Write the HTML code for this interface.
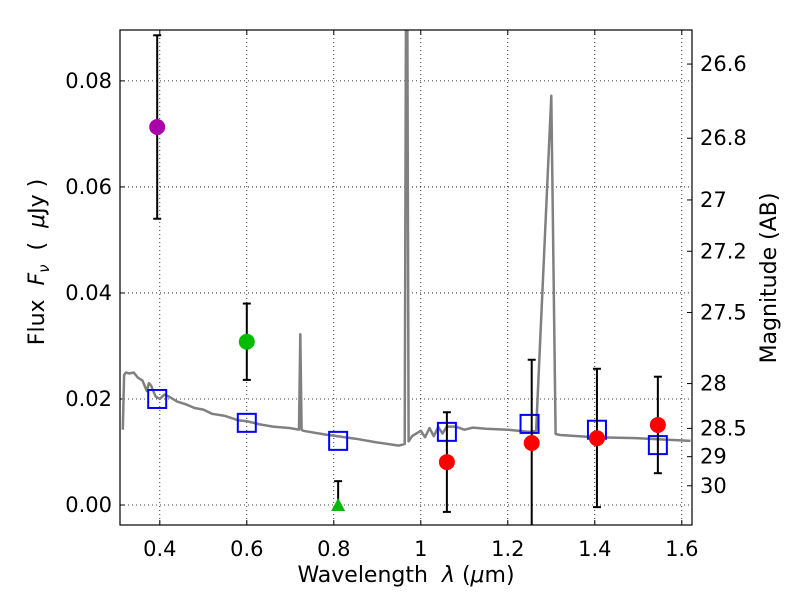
<!DOCTYPE html>
<html><head><meta charset="utf-8"><style>
body{margin:0;background:#fff;width:800px;height:600px;overflow:hidden}
text{font-family:"DejaVu Sans","Liberation Sans",sans-serif;fill:#000;white-space:pre}
</style></head><body>
<svg id="chart" width="800" height="600"></svg>
<script>
const xTicks=[0.4,0.6,0.8,1.0,1.2,1.4,1.6];
const xTickLabels=["0.4","0.6","0.8","1","1.2","1.4","1.6"];
const yTicks=[0,0.02,0.04,0.06,0.08];
const yTickLabels=["0.00","0.02","0.04","0.06","0.08"];
const magTicks=[26.6,26.8,27,27.2,27.5,28,28.5,29,30];
const magTickLabels=["26.6","26.8","27","27.2","27.5","28","28.5","29","30"];
const specX=[0.315,0.318,0.322,0.33,0.34,0.35,0.36,0.37,0.375,0.38,0.39,0.40,0.41,0.42,0.44,0.46,0.48,0.50,0.52,0.55,0.58,0.60,0.63,0.66,0.70,0.72,0.723,0.726,0.73,0.78,0.85,0.90,0.95,0.963,0.966,0.969,0.972,0.98,1.0,1.01,1.02,1.03,1.04,1.05,1.06,1.08,1.10,1.12,1.15,1.20,1.25,1.265,1.30,1.31,1.32,1.40,1.50,1.62];
const specY=[0.0142,0.0245,0.0250,0.0248,0.0250,0.0240,0.0235,0.0215,0.0230,0.0225,0.0205,0.0200,0.0208,0.0205,0.0195,0.0190,0.0183,0.0180,0.0172,0.0168,0.0160,0.0158,0.0152,0.0148,0.0145,0.0142,0.0322,0.0142,0.0140,0.0133,0.0125,0.0118,0.0112,0.0115,0.095,0.095,0.0120,0.0130,0.0140,0.0128,0.0145,0.0130,0.0147,0.0135,0.0148,0.0148,0.0142,0.0146,0.0144,0.0142,0.0138,0.0140,0.0772,0.0134,0.0132,0.0128,0.0126,0.0121];
const modelX=[0.394,0.6,0.81,1.06,1.25,1.405,1.545];
const modelY=[0.0200,0.0155,0.0121,0.0138,0.0153,0.0142,0.0113];
const obsX=[0.394,0.6,1.06,1.255,1.405,1.545];
const obsY=[0.0713,0.0308,0.0081,0.0117,0.0126,0.0151];
const obsLo=[0.0540,0.0236,-0.0013,-0.0040,-0.0004,0.0060];
const obsHi=[0.0886,0.0380,0.0175,0.0274,0.0257,0.0242];
const obsColor=["#aa00aa","#00bb00","#ff0000","#ff0000","#ff0000","#ff0000"];
const limX=[0.81];
const limY=[0.0];
const limHi=[0.0045];

const L=120,R=692,T=30,B=525;
const xmin=0.3085,xmax=1.6235,ymin=-0.00377,ymax=0.0896;
const sx=v=>L+(v-xmin)/(xmax-xmin)*(R-L);
const sy=v=>B-(v-ymin)/(ymax-ymin)*(B-T);
const svg=document.getElementById('chart');
const NS='http://www.w3.org/2000/svg';
function mk(tag,a,parent){const e=document.createElementNS(NS,tag);for(const k in a)e.setAttribute(k,a[k]);(parent||svg).appendChild(e);return e;}
const clip=mk('clipPath',{id:'pc'});mk('rect',{x:L,y:T,width:R-L,height:B-T},clip);
const grid=mk('g',{});


xTicks.forEach((v,i)=>{const x=sx(v);
 mk('line',{x1:x,x2:x,y1:T,y2:B,stroke:'#000','stroke-width':0.8,'stroke-dasharray':'1,3'},grid);
 mk('line',{x1:x,x2:x,y1:B,y2:B-5,stroke:'#000'});mk('line',{x1:x,x2:x,y1:T,y2:T+5,stroke:'#000'});
 const t=mk('text',{x:x,y:B+31,'font-size':21,'text-anchor':'middle'});t.textContent=xTickLabels[i];
 
 });
yTicks.forEach((v,i)=>{const y=sy(v);
 mk('line',{x1:L,x2:R,y1:y,y2:y,stroke:'#000','stroke-width':0.8,'stroke-dasharray':'1,3'},grid);
 mk('line',{x1:L,x2:L+5,y1:y,y2:y,stroke:'#000'});
 const t=mk('text',{x:L-8,y:y+7,'font-size':21,'text-anchor':'end'});t.textContent=yTickLabels[i];
 
 });
magTicks.forEach((m,i)=>{const f=Math.pow(10,(23.9-m)/2.5);const y=sy(f);
 mk('line',{x1:R,x2:R-5,y1:y,y2:y,stroke:'#000'});
 const t=mk('text',{x:R+8,y:y+7,'font-size':21});t.textContent=magTickLabels[i];
 
 });
const pg=mk('g',{'clip-path':'url(#pc)'});
let d='';specX.forEach((v,i)=>{d+=(i?'L':'M')+sx(v).toFixed(1)+','+sy(specY[i]).toFixed(1);});
const sp=mk('path',{d:d,fill:'none',stroke:'#808080','stroke-width':2.5,'stroke-linejoin':'round'},pg);


modelX.forEach((v,i)=>{const r=mk('rect',{x:sx(v)-9,y:sy(modelY[i])-9,width:18,height:18,fill:'none',stroke:'#0000ff','stroke-width':2},pg);
 
 });
obsX.forEach((v,i)=>{const x=sx(v);
 mk('line',{x1:x,x2:x,y1:sy(obsLo[i]),y2:sy(obsHi[i]),stroke:'#000','stroke-width':2},pg);
 mk('line',{x1:x-4,x2:x+4,y1:sy(obsLo[i]),y2:sy(obsLo[i]),stroke:'#000','stroke-width':2},pg);
 mk('line',{x1:x-4,x2:x+4,y1:sy(obsHi[i]),y2:sy(obsHi[i]),stroke:'#000','stroke-width':2},pg);
 const c=mk('circle',{cx:x,cy:sy(obsY[i]),r:8,fill:obsColor[i]},pg);
 
 });
limX.forEach((v,i)=>{const x=sx(v),y=sy(limY[i]);
 mk('line',{x1:x,x2:x,y1:y,y2:sy(limHi[i]),stroke:'#000','stroke-width':2},pg);
 mk('line',{x1:x-4,x2:x+4,y1:sy(limHi[i]),y2:sy(limHi[i]),stroke:'#000','stroke-width':2},pg);
 const p=mk('polygon',{points:`${x-7},${y+6} ${x+7},${y+6} ${x},${y-7}`,fill:'#00bb00'},pg);
 
 });
mk('rect',{x:L,y:T,width:R-L,height:B-T,fill:'none',stroke:'#000','stroke-width':1.2});
</script>
<svg width="800" height="600" style="position:absolute;left:0;top:0">
<text x="406" y="582" font-size="22" text-anchor="middle">Wavelength  <tspan font-style="italic">λ</tspan> (<tspan font-style="italic">μ</tspan>m)</text>
<text transform="translate(44,262) rotate(-90)" font-size="22" text-anchor="middle">Flux  <tspan font-style="italic">F</tspan><tspan font-size="15" font-style="italic" dy="5">ν</tspan><tspan dy="-5">  (  </tspan><tspan font-style="italic">μ</tspan>Jy )</text>
<text transform="translate(776,278) rotate(-90)" font-size="22" text-anchor="middle">Magnitude (AB)</text>
</svg>
</body></html>
